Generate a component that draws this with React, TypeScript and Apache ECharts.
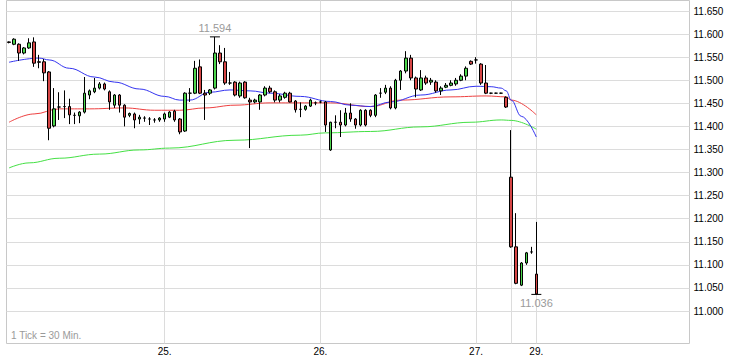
import React, { useEffect, useRef } from 'react';
import * as echarts from 'echarts';

// Each candle: [open, close, low, high], one 30-minute tick per slot
const day24: number[][] = [
  [11.583, 11.582, 11.580, 11.584], [11.578, 11.589, 11.576, 11.591], [11.578, 11.559, 11.542, 11.580],
  [11.559, 11.570, 11.556, 11.572], [11.570, 11.581, 11.568, 11.591], [11.583, 11.537, 11.529, 11.593],
  [11.540, 11.539, 11.526, 11.555], [11.540, 11.516, 11.498, 11.546], [11.518, 11.396, 11.370, 11.520],
  [11.401, 11.438, 11.398, 11.483], [11.442, 11.442, 11.414, 11.474], [11.443, 11.443, 11.418, 11.478],
  [11.443, 11.425, 11.405, 11.460], [11.424, 11.424, 11.405, 11.430], [11.423, 11.431, 11.407, 11.433],
  [11.431, 11.472, 11.428, 11.507], [11.468, 11.477, 11.459, 11.480], [11.475, 11.483, 11.472, 11.505],
  [11.483, 11.492, 11.480, 11.496], [11.492, 11.481, 11.478, 11.495], [11.475, 11.453, 11.436, 11.478],
  [11.446, 11.468, 11.440, 11.470], [11.468, 11.446, 11.430, 11.470], [11.446, 11.420, 11.400, 11.448],
  [11.424, 11.428, 11.420, 11.430], [11.427, 11.414, 11.396, 11.430], [11.416, 11.420, 11.405, 11.425],
  [11.418, 11.418, 11.410, 11.422], [11.416, 11.416, 11.403, 11.420], [11.414, 11.414, 11.408, 11.418],
  [11.414, 11.418, 11.410, 11.420],
];
const day25: number[][] = [
  [11.416, 11.427, 11.410, 11.430], [11.420, 11.431, 11.418, 11.433], [11.433, 11.414, 11.410, 11.436],
  [11.416, 11.388, 11.383, 11.418], [11.390, 11.472, 11.388, 11.474], [11.472, 11.472, 11.453, 11.483],
  [11.472, 11.526, 11.470, 11.542], [11.529, 11.472, 11.470, 11.545], [11.472, 11.468, 11.414, 11.479],
  [11.472, 11.479, 11.468, 11.481], [11.483, 11.559, 11.480, 11.594], [11.559, 11.540, 11.535, 11.576],
  [11.540, 11.494, 11.490, 11.570], [11.494, 11.494, 11.490, 11.518], [11.496, 11.468, 11.465, 11.498],
  [11.466, 11.494, 11.462, 11.497], [11.496, 11.462, 11.460, 11.498], [11.457, 11.453, 11.353, 11.462],
  [11.453, 11.457, 11.450, 11.460], [11.453, 11.468, 11.436, 11.470], [11.468, 11.483, 11.465, 11.487],
  [11.483, 11.475, 11.472, 11.488], [11.475, 11.457, 11.452, 11.478], [11.457, 11.466, 11.452, 11.470],
  [11.463, 11.472, 11.460, 11.475], [11.472, 11.453, 11.452, 11.475], [11.455, 11.436, 11.430, 11.457],
  [11.437, 11.437, 11.420, 11.452], [11.437, 11.444, 11.434, 11.446], [11.444, 11.457, 11.442, 11.460],
  [11.451, 11.451, 11.446, 11.454],
];
const day26: number[][] = [
  [11.453, 11.453, 11.450, 11.456], [11.453, 11.403, 11.388, 11.455], [11.349, 11.409, 11.347, 11.410],
  [11.409, 11.409, 11.396, 11.424], [11.409, 11.403, 11.377, 11.435], [11.403, 11.429, 11.400, 11.440],
  [11.429, 11.416, 11.410, 11.450], [11.416, 11.403, 11.395, 11.418], [11.403, 11.435, 11.400, 11.437],
  [11.435, 11.403, 11.400, 11.437], [11.435, 11.424, 11.420, 11.437], [11.424, 11.468, 11.420, 11.470],
  [11.472, 11.472, 11.462, 11.483], [11.474, 11.483, 11.470, 11.490], [11.483, 11.440, 11.437, 11.487],
  [11.440, 11.500, 11.437, 11.503], [11.500, 11.520, 11.479, 11.522], [11.520, 11.548, 11.515, 11.563],
  [11.548, 11.505, 11.500, 11.555], [11.505, 11.481, 11.463, 11.508], [11.479, 11.505, 11.477, 11.522],
  [11.505, 11.494, 11.490, 11.510], [11.496, 11.500, 11.490, 11.505], [11.496, 11.477, 11.473, 11.500],
  [11.477, 11.483, 11.468, 11.487], [11.485, 11.489, 11.483, 11.494], [11.489, 11.494, 11.487, 11.500],
  [11.492, 11.500, 11.488, 11.505], [11.500, 11.509, 11.498, 11.513], [11.509, 11.526, 11.500, 11.530],
  [11.541, 11.535, 11.533, 11.543],
];
const day27: number[][] = [
  [11.544, 11.544, 11.536, 11.550], [11.535, 11.494, 11.490, 11.537], [11.494, 11.472, 11.470, 11.533],
  [11.472, 11.472, 11.470, 11.473], [11.472, 11.472, 11.471, 11.473], [11.472, 11.472, 11.471, 11.473],
  [11.463, 11.442, 11.440, 11.465],
];
const day28: number[][] = [
  [11.290, 11.139, 11.137, 11.392], [11.139, 11.060, 11.058, 11.212], [11.056, 11.104, 11.054, 11.106],
  [11.104, 11.126, 11.100, 11.128], [11.128, 11.128, 11.124, 11.139],
];
const day29: number[][] = [
  [11.080, 11.037, 11.036, 11.193],
];

// Moving averages: [slot, value]
const blueMA: number[][] = [
  [0, 11.539], [6, 11.548], [8, 11.544], [12, 11.526], [17, 11.507], [21, 11.496], [26, 11.481],
  [31, 11.465], [34, 11.457], [36, 11.457], [40, 11.474], [44, 11.479], [48, 11.477], [52, 11.472],
  [58, 11.465], [64, 11.454], [68, 11.446], [72, 11.443], [76, 11.453], [82, 11.468], [88, 11.479],
  [93, 11.487], [96, 11.486], [98, 11.483], [99, 11.477], [100, 11.457], [102, 11.422], [105, 11.377],
];
const redMA: number[][] = [
  [0, 11.409], [5, 11.427], [10, 11.438], [16, 11.438], [23, 11.440], [29, 11.435], [34, 11.435],
  [39, 11.440], [45, 11.446], [52, 11.451], [58, 11.451], [64, 11.451], [72, 11.443], [78, 11.457],
  [88, 11.464], [95, 11.466], [99, 11.464], [100, 11.457], [105, 11.425],
];
const greenMA: number[][] = [
  [0, 11.310], [4, 11.321], [10, 11.331], [18, 11.340], [26, 11.349], [32, 11.353], [45, 11.370],
  [58, 11.381], [63, 11.386], [72, 11.389], [82, 11.399], [92, 11.409], [98, 11.414], [100, 11.413],
  [105, 11.394],
];

const yTicks: number[] = [
  11.0, 11.05, 11.1, 11.15, 11.2, 11.25, 11.3, 11.35, 11.4, 11.45, 11.5, 11.55, 11.6, 11.65,
];
const dayLabelSlots: number[] = [31, 62, 93, 105];
const dayLabelTexts: string[] = ['25.', '26.', '27.', '29.'];
const dayLineSlots: number[] = [31, 62, 93, 100, 105];
const SLOT_COUNT = 136;
const Y_MIN = 10.9296;
const Y_MAX = 11.6728;

export default function App() {
  const ref = useRef<HTMLDivElement>(null);

  useEffect(() => {
    if (!ref.current) return;
    const chart = echarts.init(ref.current, undefined, { renderer: 'svg' });
    const candles = [...day24, ...day25, ...day26, ...day27, ...day28, ...day29];
    const categories = Array.from({ length: SLOT_COUNT }, (_, i) => 's' + i);

    let hiIdx = 0;
    let loIdx = 0;
    candles.forEach((c, i) => {
      if (c[3] > candles[hiIdx][3]) hiIdx = i;
      if (c[2] < candles[loIdx][2]) loIdx = i;
    });
    const hiVal = candles[hiIdx][3];
    const loVal = candles[loIdx][2];

    const font = 'Liberation Sans, Arial, sans-serif';

    chart.setOption({
      animation: false,
      backgroundColor: '#ffffff',
      textStyle: { fontFamily: font },
      grid: {
        left: 6.5,
        right: 39.5,
        top: 0.5,
        bottom: 19.5,
        show: true,
        borderColor: '#c8c8c8',
        borderWidth: 1,
        backgroundColor: '#ffffff',
      },
      xAxis: {
        type: 'category',
        data: categories,
        boundaryGap: true,
        axisLine: { show: false },
        axisTick: { show: false },
        splitLine: { show: false },
        axisLabel: {
          interval: 0,
          margin: 3,
          color: '#000',
          fontSize: 10,
          fontFamily: font,
          formatter: (_v: string, i: number) => {
            const k = dayLabelSlots.indexOf(i);
            return k >= 0 ? dayLabelTexts[k] : '';
          },
        },
      },
      yAxis: {
        type: 'value',
        position: 'right',
        min: Y_MIN,
        max: Y_MAX,
        axisLine: { show: false },
        axisTick: { show: false },
        axisLabel: { show: false },
        splitLine: { show: false },
      },
      graphic: [
        {
          type: 'text',
          left: 11,
          top: 330,
          silent: true,
          style: { text: '1 Tick = 30 Min.', fill: '#9a9a9a', fontSize: 10, fontFamily: font },
        },
      ],
      series: [
        {
          type: 'line',
          data: greenMA,
          showSymbol: false,
          smooth: 0.4,
          smoothMonotone: 'x',
          silent: true,
          z: 1,
          lineStyle: { color: '#44e044', width: 1 },
          markLine: {
            silent: true,
            z: 0,
            symbol: ['none', 'none'],
            lineStyle: { color: '#dcdcdc', width: 1, type: 'solid' },
            label: { show: true, position: 'end', distance: 4, color: '#000', fontSize: 10, fontFamily: font },
            data: yTicks.map((v) => ({ yAxis: v, label: { formatter: v.toFixed(3) } })),
          },
        },
        {
          type: 'line',
          data: redMA,
          showSymbol: false,
          smooth: 0.4,
          smoothMonotone: 'x',
          silent: true,
          z: 1,
          lineStyle: { color: '#ee4040', width: 1 },
          markLine: {
            silent: true,
            z: 0,
            symbol: ['none', 'none'],
            lineStyle: { color: '#dcdcdc', width: 1, type: 'solid' },
            label: { show: false },
            data: dayLineSlots.map((s) => ({ xAxis: s })),
          },
        },
        {
          type: 'line',
          data: blueMA,
          showSymbol: false,
          smooth: 0.4,
          smoothMonotone: 'x',
          silent: true,
          z: 1,
          lineStyle: { color: '#3434f0', width: 1 },
        },
        {
          type: 'candlestick',
          data: candles,
          barWidth: 3,
          silent: true,
          z: 3,
          itemStyle: {
            color: '#4cd64c',
            color0: '#d64646',
            borderColor: '#000',
            borderColor0: '#000',
            borderColorDoji: '#000',
            borderWidth: 1,
          },
          markPoint: {
            silent: true,
            z: 4,
            symbol: 'rect',
            symbolSize: [10, 1],
            itemStyle: { color: '#000' },
            label: { show: true, color: '#9a9a9a', fontSize: 11, fontFamily: font },
            data: [
              { coord: [hiIdx, hiVal], label: { position: 'top', distance: 3, formatter: hiVal.toFixed(3) } },
              { coord: [loIdx, loVal], label: { position: 'bottom', distance: 3, formatter: loVal.toFixed(3) } },
            ],
          },
        },
      ],
    });

    return () => chart.dispose();
  }, []);

  return (
    <div
      ref={ref}
      style={{ position: 'absolute', left: 0, top: 0, width: 729, height: 363 }}
    />
  );
}
